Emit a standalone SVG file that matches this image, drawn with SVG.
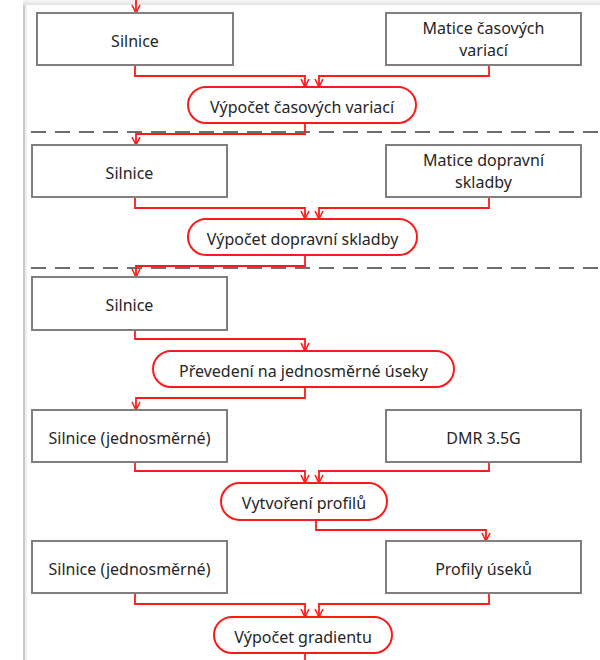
<svg xmlns="http://www.w3.org/2000/svg" width="600" height="660" viewBox="0 0 600 660">
<defs>
<linearGradient id="topShade" x1="0" y1="0" x2="0" y2="1">
<stop offset="0" stop-color="#f7f7f7"/>
<stop offset="1" stop-color="#e2e2e2"/>
</linearGradient>
<marker id="arr" markerUnits="userSpaceOnUse" viewBox="-9 -5 10 10" refX="0" refY="0" markerWidth="10" markerHeight="10" orient="auto">
<path d="M-8,-4 L0,0 L-8,4" fill="none" stroke="#ff1a1a" stroke-width="1.6"/>
</marker>
</defs>
<style>
.box{fill:#fff;stroke:#7f7f7f;stroke-width:2}
.proc{fill:#fff;stroke:#ff1a1a;stroke-width:2}
.t{font-family:"Noto Sans","Open Sans","DejaVu Sans",sans-serif;font-size:16px;fill:#262626;text-anchor:middle}
.c{fill:none;stroke:#ff1a1a;stroke-width:1.8;marker-end:url(#arr)}
.sep{stroke:#6e6e6e;stroke-width:2;stroke-dasharray:15 9}
</style>
<rect x="0" y="0" width="600" height="660" fill="#fff"/>
<rect x="23" y="0" width="577" height="5" fill="url(#topShade)"/>
<line x1="24" y1="5" x2="24" y2="660" stroke="#c9c9c9" stroke-width="2"/>
<line x1="26" y1="5" x2="26" y2="660" stroke="#eeeeee" stroke-width="2"/>

<g id="separators">
<line class="sep" x1="31" y1="132" x2="600" y2="132"/>
<line class="sep" x1="31" y1="268" x2="600" y2="268"/>
</g>

<g id="connectors">
<path class="c" d="M136,0 V13"/>
<path class="c" d="M135,65 V76 H305 V87"/>
<path class="c" d="M489,65 V76 H319 V87"/>
<path class="c" d="M305,123 V134 H136 V145"/>
<path class="c" d="M135,197 V208 H305 V219"/>
<path class="c" d="M489,197 V208 H319 V219"/>
<path class="c" d="M305,255 V266 H136 V277"/>
<path class="c" d="M135,330 V339 H305 V351"/>
<path class="c" d="M305,387 V398 H136 V410"/>
<path class="c" d="M135,462 V471 H305 V483"/>
<path class="c" d="M489,462 V471 H319 V483"/>
<path class="c" d="M316,520 V530 H486 V541"/>
<path class="c" d="M135,593 V604 H305 V617"/>
<path class="c" d="M489,593 V604 H319 V617"/>
<path d="M305,653 V660" fill="none" stroke="#ff1a1a" stroke-width="1.8"/>
</g>

<g id="n1"><rect class="box" x="37" y="13" width="196" height="52"/><text class="t" x="135" y="47">Silnice</text></g>
<g id="n2"><rect class="box" x="386" y="13" width="195" height="52"/><text class="t" x="483.5" y="34">Matice časových</text><text class="t" x="483.5" y="56">variací</text></g>
<g id="p1"><rect class="proc" x="188" y="87" width="228" height="36" rx="18"/><text class="t" x="302" y="113">Výpočet časových variací</text></g>

<g id="n3"><rect class="box" x="32" y="145" width="195" height="52"/><text class="t" x="129.5" y="179">Silnice</text></g>
<g id="n4"><rect class="box" x="386" y="145" width="195" height="52"/><text class="t" x="483.5" y="166">Matice dopravní</text><text class="t" x="483.5" y="188">skladby</text></g>
<g id="p2"><rect class="proc" x="188" y="219" width="229" height="36" rx="18"/><text class="t" x="302.5" y="245">Výpočet dopravní skladby</text></g>

<g id="n5"><rect class="box" x="32" y="277" width="195" height="53"/><text class="t" x="129.5" y="311">Silnice</text></g>
<g id="p3"><rect class="proc" x="153" y="351" width="301" height="36" rx="18"/><text class="t" x="303.5" y="377">Převedení na jednosměrné úseky</text></g>

<g id="n6"><rect class="box" x="32" y="410" width="195" height="52"/><text class="t" x="129.5" y="444">Silnice (jednosměrné)</text></g>
<g id="n7"><rect class="box" x="386" y="410" width="195" height="52"/><text class="t" x="483.5" y="444">DMR 3.5G</text></g>
<g id="p4"><rect class="proc" x="221" y="483" width="166" height="37" rx="18.5"/><text class="t" x="304" y="509">Vytvoření profilů</text></g>

<g id="n8"><rect class="box" x="32" y="541" width="195" height="52"/><text class="t" x="129.5" y="575">Silnice (jednosměrné)</text></g>
<g id="n9"><rect class="box" x="386" y="541" width="195" height="52"/><text class="t" x="483.5" y="575">Profily úseků</text></g>
<g id="p5"><rect class="proc" x="214" y="617" width="178" height="36" rx="18"/><text class="t" x="303" y="643">Výpočet gradientu</text></g>
</svg>
